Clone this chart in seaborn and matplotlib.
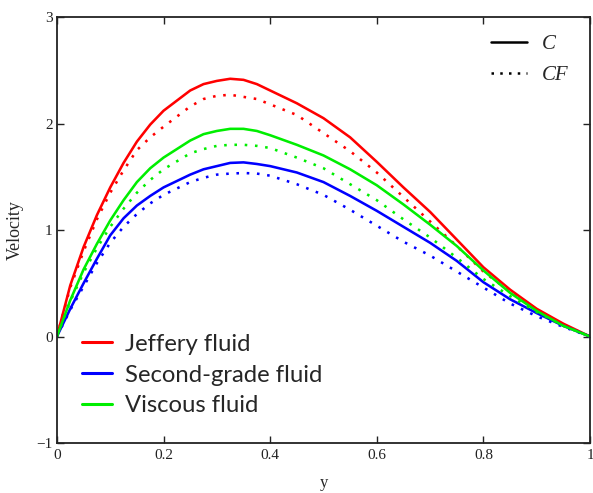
import numpy as np
import pandas as pd
import matplotlib
matplotlib.use("Agg")
import matplotlib.pyplot as plt
import seaborn as sns
from matplotlib.lines import Line2D

# ---- data ----
y_pos = [0, 0.025, 0.05, 0.075, 0.1, 0.125, 0.15, 0.175, 0.2, 0.25, 0.275, 0.3,
         0.325, 0.35, 0.375, 0.4, 0.45, 0.5, 0.55, 0.6, 0.65, 0.7, 0.75, 0.8,
         0.85, 0.9, 0.95, 1.0]

jeffery_C = [0, 0.48, 0.84, 1.14, 1.40, 1.63, 1.83, 1.99, 2.12, 2.31, 2.37, 2.40,
             2.42, 2.41, 2.37, 2.31, 2.19, 2.05, 1.87, 1.64, 1.40, 1.17, 0.91, 0.65,
             0.44, 0.26, 0.12, 0]
jeffery_CF = [0, 0.46, 0.80, 1.10, 1.35, 1.56, 1.75, 1.87, 1.97, 2.16, 2.23, 2.26,
              2.27, 2.25, 2.23, 2.18, 2.08, 1.91, 1.74, 1.54, 1.31, 1.08, 0.85, 0.61,
              0.42, 0.25, 0.11, 0]
second_C = [0, 0.26, 0.50, 0.73, 0.95, 1.11, 1.23, 1.32, 1.40, 1.52, 1.57, 1.60,
            1.63, 1.635, 1.62, 1.60, 1.54, 1.45, 1.32, 1.18, 1.03, 0.88, 0.71, 0.51,
            0.35, 0.22, 0.10, 0]
second_CF = [0, 0.25, 0.47, 0.69, 0.88, 1.03, 1.15, 1.25, 1.33, 1.45, 1.49, 1.52,
             1.53, 1.535, 1.53, 1.51, 1.43, 1.33, 1.19, 1.04, 0.89, 0.76, 0.61, 0.46,
             0.31, 0.19, 0.09, 0]
viscous_C = [0, 0.34, 0.63, 0.87, 1.09, 1.28, 1.45, 1.58, 1.68, 1.84, 1.90, 1.93,
             1.95, 1.95, 1.93, 1.89, 1.80, 1.70, 1.57, 1.42, 1.24, 1.05, 0.85, 0.62,
             0.41, 0.24, 0.10, 0]
viscous_CF = [0, 0.33, 0.60, 0.83, 1.03, 1.20, 1.35, 1.47, 1.57, 1.72, 1.76, 1.79,
              1.80, 1.80, 1.79, 1.77, 1.68, 1.58, 1.43, 1.28, 1.10, 0.93, 0.74, 0.54,
              0.38, 0.23, 0.10, 0]

fluids = ["Jeffery fluid", "Second-grade fluid", "Viscous fluid"]
models = ["C", "CF"]
x_ticks = [0, 0.2, 0.4, 0.6, 0.8, 1]
x_ticklabels = ["0", "0.2", "0.4", "0.6", "0.8", "1"]
y_ticks = [-1, 0, 1, 2, 3]
y_ticklabels = ["\u22121", "0", "1", "2", "3"]

series = {
    ("Jeffery fluid", "C"): jeffery_C,
    ("Jeffery fluid", "CF"): jeffery_CF,
    ("Second-grade fluid", "C"): second_C,
    ("Second-grade fluid", "CF"): second_CF,
    ("Viscous fluid", "C"): viscous_C,
    ("Viscous fluid", "CF"): viscous_CF,
}
rows = []
for (fl, md), vals in series.items():
    for xv, vv in zip(y_pos, vals):
        rows.append({"y": xv, "Velocity": vv, "fluid": fl, "model": md})
df = pd.DataFrame(rows)

# ---- style ----
sns.set_style("ticks")
plt.rcParams["font.family"] = ["Liberation Serif", "DejaVu Serif"]

palette = {"Jeffery fluid": "#ff0000", "Second-grade fluid": "#0000ff",
           "Viscous fluid": "#00ee00"}
dashes = {"C": "", "CF": (1, 3)}

fig = plt.figure(figsize=(5.93, 4.93), dpi=100)
ax = fig.add_axes([0.096, 0.1014, 0.899, 0.8641])

sns.lineplot(data=df, x="y", y="Velocity", hue="fluid", style="model",
             palette=palette, dashes=dashes, hue_order=fluids,
             style_order=models, linewidth=1.85, ax=ax, legend=False,
             estimator=None, sort=False)

ax.set_xlim(0, 1)
ax.set_ylim(-1, 3)
ax.set_xticks(x_ticks)
ax.set_xticklabels(x_ticklabels)
ax.set_yticks(y_ticks)
ax.set_yticklabels(y_ticklabels)
ax.tick_params(direction="in", length=5, width=1, top=True, right=True,
               labelsize=11, colors="#222222")
ax.tick_params(axis="x", pad=4)
ax.tick_params(axis="y", pad=3)
for s in ax.spines.values():
    s.set_linewidth(1.3)
    s.set_color("#222222")

ax.set_xlabel("y", fontsize=12, labelpad=10)
ax.set_ylabel("Velocity", fontsize=13, labelpad=9)

# fluid legend
h1 = [Line2D([], [], color=palette[f], lw=2.2) for f in fluids]
leg1 = ax.legend(h1, fluids, loc="lower left", bbox_to_anchor=(0.006, 0.012),
                 frameon=False, handlelength=1.28, handletextpad=0.55,
                 labelspacing=0.41,
                 prop={"family": "Lato", "size": 17.2})
ax.add_artist(leg1)

# model legend
h2 = [Line2D([], [], color="black", lw=1.8),
      Line2D([], [], color="black", lw=1.8, ls=(0, (1, 2.5)))]
ax.legend(h2, models, loc="upper right", bbox_to_anchor=(0.995, 1.003),
          frameon=False, handlelength=1.75, handletextpad=0.7,
          labelspacing=0.55,
          prop={"family": "Liberation Serif", "style": "italic", "size": 15})

fig.savefig("out.png", dpi=100)
